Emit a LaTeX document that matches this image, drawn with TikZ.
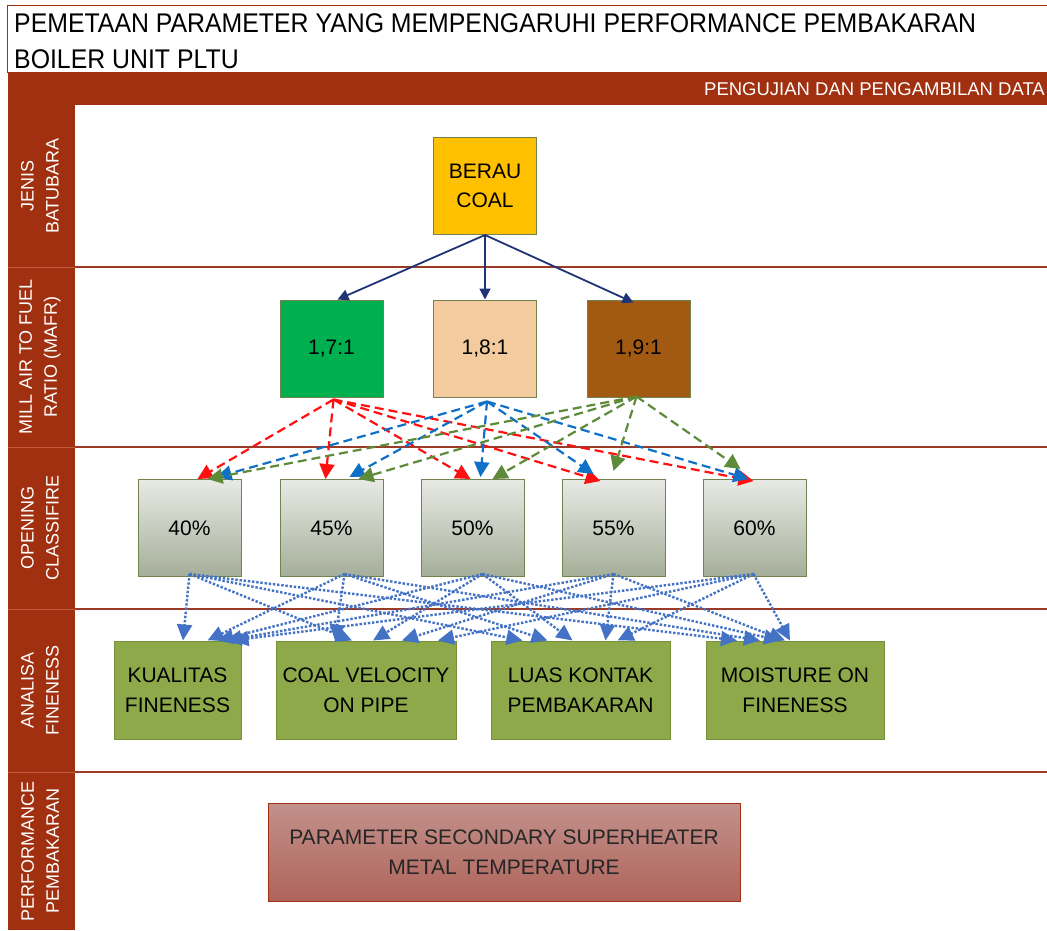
\documentclass[tikz,border=0pt]{standalone}
\usepackage{fontspec}
\setmainfont{Liberation Sans}
\newfontfamily\titlefont[FakeStretch=0.92]{Liberation Sans}
\usetikzlibrary{arrows.meta,calc}
\definecolor{framec}{HTML}{A0300F}
\definecolor{framelt}{HTML}{C05A3A}
\definecolor{rowc}{HTML}{9C3A28}
\definecolor{navyc}{HTML}{1F3477}
\definecolor{redc}{HTML}{FF1010}
\definecolor{bluec}{HTML}{0F70C8}
\definecolor{greenc}{HTML}{5E8B3A}
\definecolor{dotc}{HTML}{4472C4}
\definecolor{goldc}{HTML}{FFC000}
\definecolor{greenfill}{HTML}{00B050}
\definecolor{peachc}{HTML}{F4CB9E}
\definecolor{brownc}{HTML}{A25A12}
\definecolor{boxedge}{HTML}{72834F}
\definecolor{optop}{HTML}{E8EAE5}
\definecolor{opbot}{HTML}{A5AE99}
\definecolor{anfill}{HTML}{8EA94A}
\definecolor{anedge}{HTML}{76913A}
\definecolor{pftop}{HTML}{C2918B}
\definecolor{pfbot}{HTML}{AF645A}
\tikzset{
  sqbox/.style={draw=boxedge, line width=1pt, minimum width=103pt, minimum height=97pt,
    inner sep=2pt, align=center, font=\fontsize{21}{29}\selectfont},
  opbox/.style={sqbox, top color=optop, bottom color=opbot},
  anbox/.style={draw=anedge, fill=anfill, line width=1pt, minimum height=98pt,
    inner sep=2pt, align=center, font=\fontsize{21}{30}\selectfont},
  sidelab/.style={rotate=90, text=white, align=center, inner sep=0pt,
    font=\fontsize{18}{25}\selectfont},
  rowline/.style={draw=rowc, line width=1.4pt},
  navyarrow/.style={draw=navyc, line width=1.8pt, -{Triangle[length=11pt,width=11pt]}},
  dsh/.style={line width=2.2pt, dash pattern=on 9pt off 5pt, -{Triangle[length=15pt,width=15pt]}},
  dotarrow/.style={draw=dotc, line width=2.4pt, dash pattern=on 2.4pt off 1.8pt,
    -{Triangle[length=16pt,width=15pt]}},
}
\begin{document}
\begin{tikzpicture}[x=1pt,y=-1pt]
\useasboundingbox (0,0) rectangle (1047,930);
\fill[white] (0,0) rectangle (1047,930);
% title box
\draw[framec, line width=1pt, fill=white] (7.5,5) rectangle (1052,72);
\node[anchor=base west, inner sep=0pt, font=\titlefont\fontsize{27}{33}\selectfont] (title1) at (14,32) {PEMETAAN PARAMETER YANG MEMPENGARUHI PERFORMANCE PEMBAKARAN};
\node[anchor=base west, inner sep=0pt, font=\titlefont\fontsize{27}{33}\selectfont] (title2) at (14,68) {BOILER UNIT PLTU};
% band
\fill[framec] (7.5,72) rectangle (1047,105);
\node[anchor=base east, inner sep=0pt, text=white, font=\fontsize{18.5}{22}\selectfont] (band) at (1045,95) {PENGUJIAN DAN PENGAMBILAN DATA};
% left column
\fill[framec] (7.5,105) rectangle (75,930);
\foreach \yy in {267,447,609,772}{
  \draw[framelt, line width=0.8pt] (7.5,\yy) -- (75,\yy);
  \draw[rowline] (75,\yy) -- (1047,\yy);
}
\node[sidelab] (lab1) at (40,186) {JENIS\\BATUBARA};
\node[sidelab] (lab2) at (40,357) {MILL AIR TO FUEL\\RATIO (MAFR)};
\node[sidelab] (lab3) at (40,528) {OPENING\\CLASSIFIRE};
\node[sidelab] (lab4) at (40,690) {ANALISA\\FINENESS};
\node[sidelab] (lab5) at (40,851) {PERFORMANCE\\PEMBAKARAN};
% nodes
\node[sqbox, fill=goldc] (berau) at (485,186) {BERAU\\COAL};
\node[sqbox, fill=greenfill] (m17) at (331.5,348.5) {1,7:1};
\node[sqbox, fill=peachc] (m18) at (485,348.5) {1,8:1};
\node[sqbox, fill=brownc] (m19) at (638.5,348.5) {1,9:1};
\node[opbox] (o40) at (189.5,528) {40\%};
\node[opbox] (o45) at (331.5,528) {45\%};
\node[opbox] (o50) at (472.5,528) {50\%};
\node[opbox] (o55) at (613.5,528) {55\%};
\node[opbox] (o60) at (754.5,528) {60\%};
\node[anbox, minimum width=127pt] (a1) at (177.5,690) {KUALITAS\\FINENESS};
\node[anbox, minimum width=180pt] (a2) at (366,690) {COAL VELOCITY\\ON PIPE};
\node[anbox, minimum width=179pt] (a3) at (580.5,690) {LUAS KONTAK\\PEMBAKARAN};
\node[anbox, minimum width=178pt] (a4) at (795,690) {MOISTURE ON\\FINENESS};
\node[draw=framec, line width=1pt, top color=pftop, bottom color=pfbot, minimum width=472pt,
  minimum height=98pt, align=center, font=\fontsize{21}{30}\selectfont, text=black!85] (perf) at (504,852)
  {PARAMETER SECONDARY SUPERHEATER\\METAL TEMPERATURE};
% navy arrows
\draw[navyarrow] (berau.south) -- ($(m17.north)+(6,0)$);
\draw[navyarrow] (berau.south) -- (m18.north);
\draw[navyarrow] (berau.south) -- ($(m19.north)+(-5,3)$);
% dashed arrows
\foreach \t/\dx/\dy in {o40/8/0, o45/-6/0, o50/-2/0, o55/-13/2, o60/-1/2}
  \draw[dsh, redc] ($(m17.south)+(2,2)$) -- ($(\t.north)+(\dx,\dy)$);
\foreach \t/\dx/\dy in {o40/27/-2, o45/18/-2, o50/8/-2, o55/-20/-5, o60/-6/0}
  \draw[dsh, bluec] ($(m18.south)+(2,4)$) -- ($(\t.north)+(\dx,\dy)$);
\foreach \t/\dx/\dy in {o40/18/0, o45/27/0, o50/20/0, o55/0/-8, o60/-14/-10}
  \draw[dsh, greenc] ($(m19.south)+(-2,-1)$) -- ($(\t.north)+(\dx,\dy)$);
% dotted arrows
\foreach \s/\sx in {o40/0, o45/13, o50/10, o55/0, o60/-1}{
  \coordinate (st-\s) at ($(\s.south)+(\sx,-3)$);
}
\foreach \s/\k in {o40/5.5, o45/30, o50/40, o55/48, o60/55}
  \draw[dotarrow] (st-\s) -- ($(a1.north)+(\k,0)$);
\foreach \s/\k in {o40/-14, o45/-31, o50/7, o55/36, o60/72}
  \draw[dotarrow] (st-\s) -- ($(a2.north)+(\k,0)$);
\foreach \s/\k in {o40/-58, o45/-33, o50/-8, o55/25, o60/37}
  \draw[dotarrow] (st-\s) -- ($(a3.north)+(\k,0)$);
\foreach \s/\k in {o40/-58, o45/-35, o50/-15, o55/-10, o60/-5}
  \draw[dotarrow] (st-\s) -- ($(a4.north)+(\k,0)$);
\end{tikzpicture}
\end{document}
